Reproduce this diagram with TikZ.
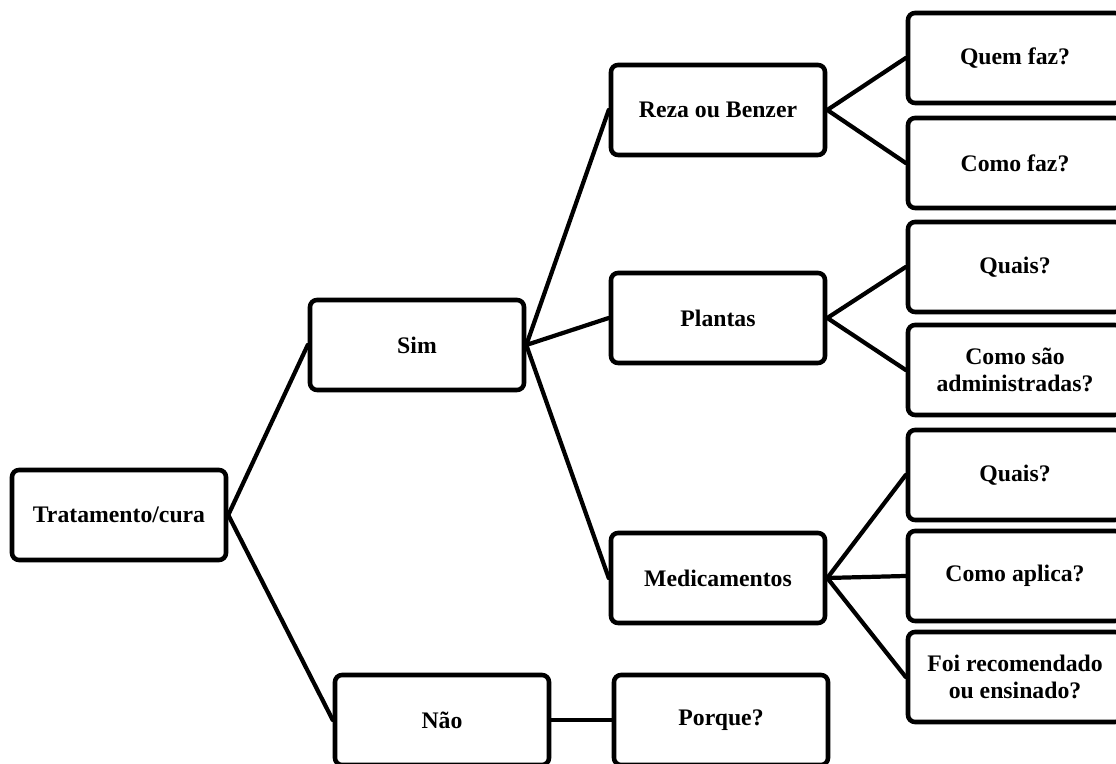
\documentclass[tikz,border=0pt]{standalone}
\usepackage{fontspec}
\setmainfont{Liberation Serif}
\begin{document}
\begin{tikzpicture}[line join=round,line cap=round,scale=1]
\tikzstyle{box} = [draw,line width=2.6pt,rounded corners=4pt,minimum width=4.28cm,minimum height=1.8cm,align=center,font=\fontsize{13.5}{15}\selectfont\bfseries]
\tikzstyle{link} = [draw,line width=2.4pt]

\useasboundingbox (0,0) rectangle (22.32,15.28);

\node[box] (trat)    at (2.38,4.98)  {Tratamento/cura};
\node[box] (sim)     at (8.34,8.38)  {Sim};
\node[box] (nao)     at (8.84,0.88)  {Não};

\node[box] (reza)    at (14.36,13.08) {Reza ou Benzer};
\node[box] (plantas) at (14.36,8.92)  {Plantas};
\node[box] (med)     at (14.36,3.72)  {Medicamentos};
\node[box] (porque)  at (14.42,0.88)  {Porque?};

\node[box] (quem)    at (20.30,14.12) {Quem faz?};
\node[box] (comofaz) at (20.30,12.02) {Como faz?};
\node[box] (quais)   at (20.30,9.94)  {Quais?};
\node[box] (adm)     at (20.30,7.88)  {Como são\\administradas?};
\node[box] (quaism)  at (20.30,5.78)  {Quais?};
\node[box] (aplica)  at (20.30,3.76)  {Como aplica?};
\node[box] (foi)     at (20.30,1.74)  {Foi recomendado\\ou ensinado?};

\draw[link] (trat.east) -- (sim.west);
\draw[link] (trat.east) -- (nao.west);
\draw[link] (nao.east) -- (porque.west);

\draw[link] (sim.east) -- (reza.west);
\draw[link] (sim.east) -- (plantas.west);
\draw[link] (sim.east) -- (med.west);

\draw[link] (reza.east) -- (quem.west);
\draw[link] (reza.east) -- (comofaz.west);
\draw[link] (plantas.east) -- (quais.west);
\draw[link] (plantas.east) -- (adm.west);
\draw[link] (med.east) -- (quaism.west);
\draw[link] (med.east) -- (aplica.west);
\draw[link] (med.east) -- (foi.west);

\end{tikzpicture}
\end{document}
